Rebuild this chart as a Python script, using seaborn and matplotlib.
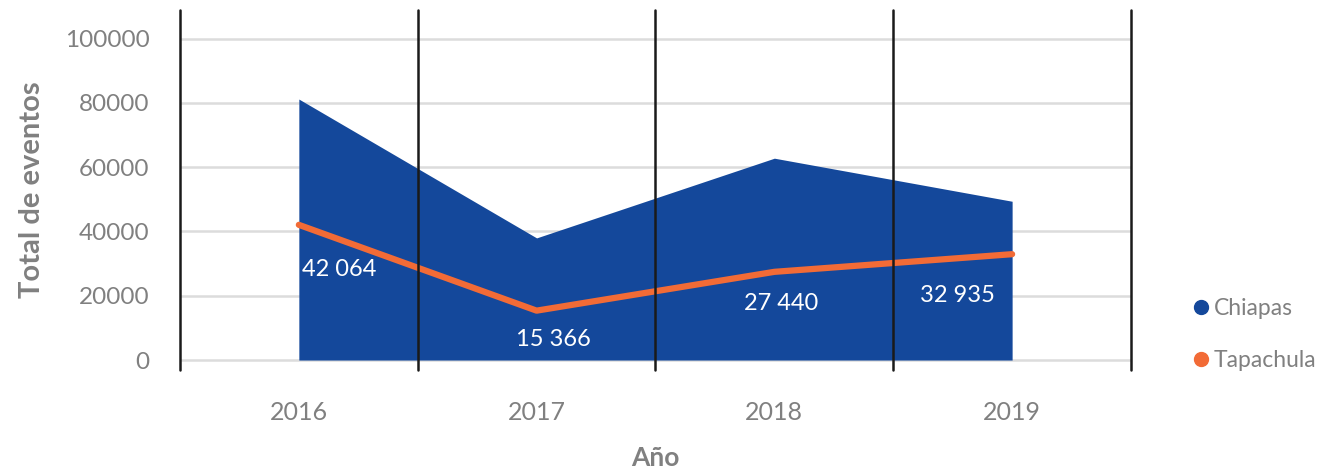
import numpy as np
import pandas as pd
import seaborn as sns
import matplotlib.pyplot as plt
from matplotlib.lines import Line2D

# datos
years = ["2016", "2017", "2018", "2019"]
chiapas = [81200, 38000, 62800, 49400]
tapachula = [42064, 15366, 27440, 32935]
labels = ["42 064", "15 366", "27 440", "32 935"]

sns.set_style("white")
plt.rcParams['font.family'] = ['Lato', 'DejaVu Sans']

blue = "#14489b"
orange = "#f26b36"
gray = "#808080"

df = pd.DataFrame({"pos": np.arange(len(years)), "year": years,
                   "Chiapas": chiapas, "Tapachula": tapachula})

fig = plt.figure(figsize=(13.41, 4.68), dpi=100)
ax = fig.add_axes([0.1342, 0.2094, 0.7092, 0.7692])

ax.fill_between(df["pos"], 0, df["Chiapas"], color=blue, lw=0, zorder=2)
sns.lineplot(data=df, x="pos", y="Tapachula", color=orange, lw=4.5, ax=ax, zorder=3)

ymin, ymax = -3100, 108900
ax.set_xlim(-0.5, 3.5)
ax.set_ylim(ymin, ymax)

# lineas de separacion entre categorias
for xv in np.arange(-0.5, 4.0, 1.0):
    ax.axvline(xv, color="#1a1a1a", lw=1.8, zorder=4, clip_on=False)
for yv in range(0, 100001, 20000):
    ax.axhline(yv, color="#dcdcdc", lw=1.8, zorder=1)

# etiquetas de datos
offsets = [(0.17, -14000), (0.07, -9000), (0.03, -10000), (-0.23, -13000)]
for i, (dx, dy) in enumerate(offsets):
    ax.text(df["pos"][i] + dx, tapachula[i] + dy, labels[i], color="white",
            fontsize=17, ha="center", va="center", zorder=5)

ax.set_xticks(df["pos"])
ax.set_xticklabels(years)
ax.set_yticks(range(0, 100001, 20000))
ax.tick_params(axis="both", length=0, labelcolor=gray)
ax.tick_params(axis="x", pad=22, labelsize=18)
ax.tick_params(axis="y", pad=22, labelsize=17.5)
for s in ax.spines.values():
    s.set_visible(False)

ax.set_xlabel("Año", fontsize=19, fontweight="bold", color=gray, labelpad=16)
ax.set_ylabel("Total de eventos", fontsize=21, fontweight="bold", color=gray, labelpad=14)

handles = [Line2D([], [], marker="o", ls="", color=blue, markersize=10),
           Line2D([], [], marker="o", ls="", color=orange, markersize=10)]
leg = fig.legend(handles, ["Chiapas", "Tapachula"], loc="center left",
                 bbox_to_anchor=(0.887, 0.285), frameon=False, fontsize=16.5,
                 handletextpad=0.05, labelspacing=1.35, labelcolor=gray,
                 borderpad=0, borderaxespad=0, handlelength=1.0)

fig.savefig("out.png", dpi=100)
